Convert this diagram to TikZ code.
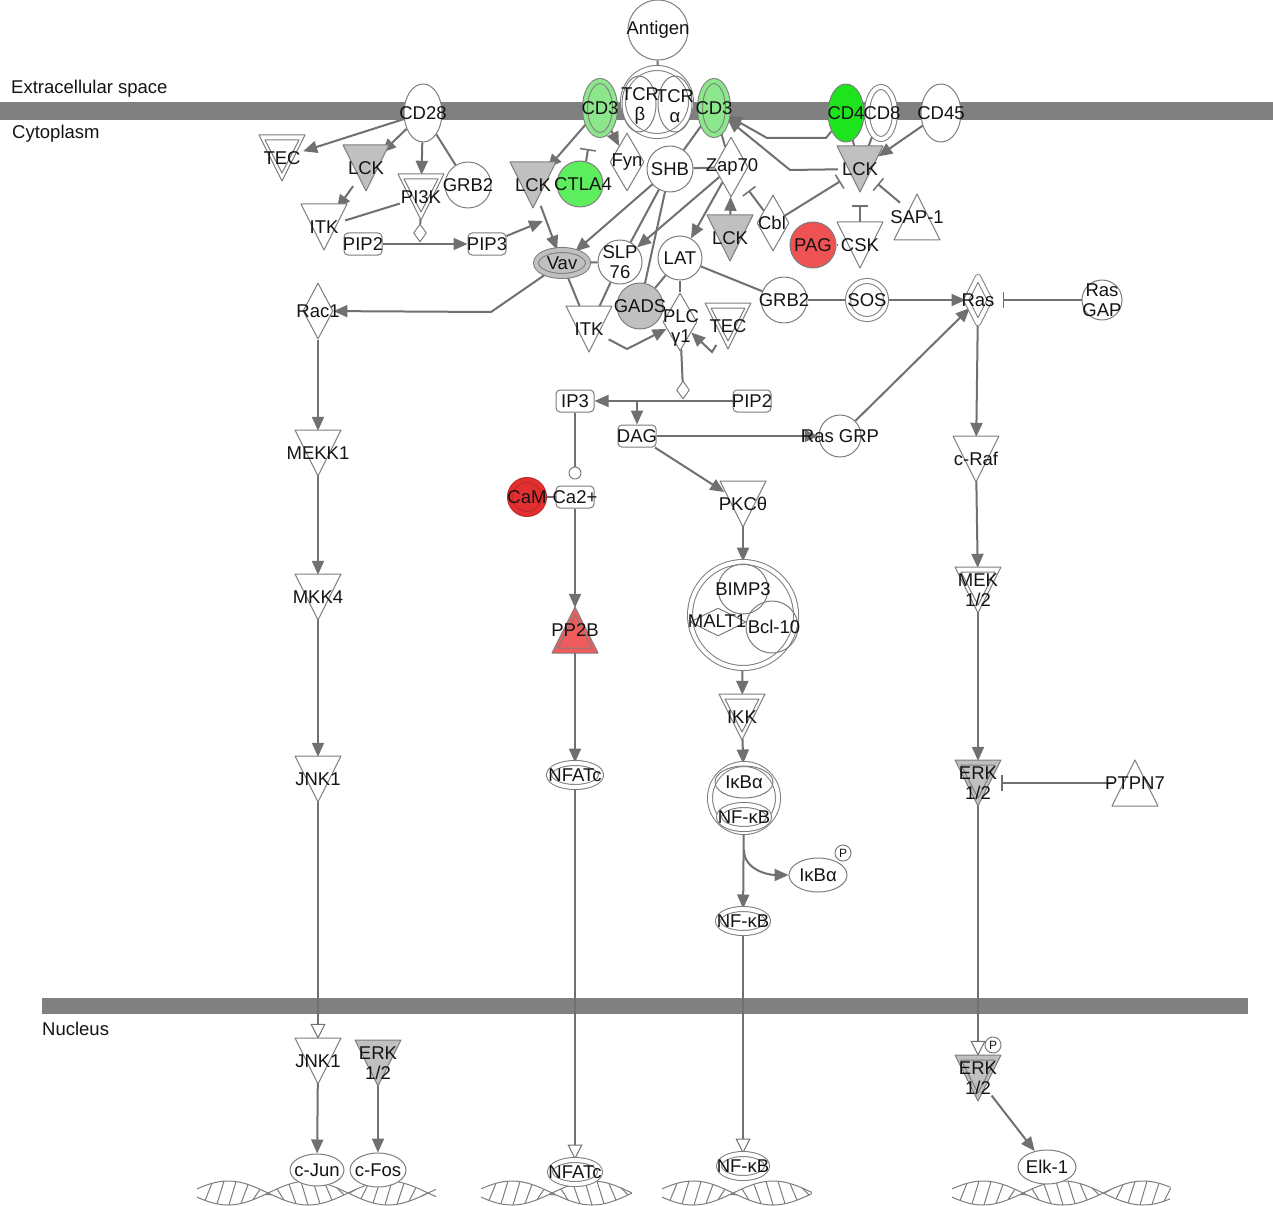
\documentclass[tikz,border=0pt]{standalone}
\usepackage{fontspec}
\setmainfont{Liberation Sans}
\usetikzlibrary{shapes.geometric,arrows.meta,backgrounds}
\pgfdeclarelayer{fg}
\pgfsetlayers{background,main,fg}
\definecolor{lg}{RGB}{112,112,112}
\definecolor{ng}{RGB}{125,125,125}
\definecolor{gf}{RGB}{192,192,192}
\definecolor{barc}{RGB}{128,128,128}
\definecolor{g1}{RGB}{140,230,140}
\definecolor{g2}{RGB}{30,228,30}
\definecolor{g3}{RGB}{92,238,92}
\definecolor{r1}{RGB}{226,48,48}
\definecolor{r1d}{RGB}{190,40,40}
\definecolor{r2}{RGB}{238,82,82}
\definecolor{r3}{RGB}{240,92,92}
\definecolor{tx}{RGB}{20,20,20}
\tikzset{
 shp/.style={draw=ng, line width=1pt, line join=round},
 ell/.style={ellipse, shp, fill=white, inner sep=0pt},
 circ/.style={circle, shp, fill=white, inner sep=0pt},
 dia/.style={diamond, shp, fill=white, inner sep=0pt},
 rrect/.style={rectangle, rounded corners=4pt, shp, fill=white, inner sep=0pt, minimum width=38pt, minimum height=22pt},
 dbl/.style={double=#1, double distance=4pt}, dbl/.default=white,
 anc/.style={circle, inner sep=0pt, minimum size=44pt},
 lbl/.style={inner sep=0pt, font=\fontsize{18.5}{20.5}\selectfont, text=tx, align=center},
 conn/.style={draw=lg, line width=2pt},
 act/.style={conn, -{Triangle[length=14pt,width=12pt]}},
 trans/.style={conn, -{Triangle[open,length=15pt,width=15pt,fill=white,line width=1pt]}},
 inh/.style={conn, -{Bar[width=16pt,line width=1.5pt]}},
 dna/.style={draw=ng, line width=1pt},
}
\newcommand{\Nlab}[2]{\begin{pgfonlayer}{fg}\node[lbl] (#1-l) at (#1) {#2};\end{pgfonlayer}}
\newcommand{\Nlabat}[4]{\begin{pgfonlayer}{fg}\node[lbl] (#1-l) at (#2,#3) {#4};\end{pgfonlayer}}
\newcommand{\Tdn}[5]{%
 \draw[shp,fill=#4] ({#2-23},{#3-23}) -- ({#2+23},{#3-23}) -- ({#2},{#3+23}) -- cycle;
 \node[anc] (#1) at (#2,#3) {};
 \Nlabat{#1}{#2}{#3}{#5}}
\newcommand{\Tdd}[5]{%
 \draw[shp,fill=#4] ({#2-23},{#3-23}) -- ({#2+23},{#3-23}) -- ({#2},{#3+23}) -- cycle;
 \draw[shp] ({#2-17},{#3-18}) -- ({#2+17},{#3-18}) -- ({#2},{#3+15}) -- cycle;
 \node[anc] (#1) at (#2,#3) {};
 \Nlabat{#1}{#2}{#3}{#5}}
\newcommand{\Tup}[5]{%
 \draw[shp,fill=#4] ({#2},{#3-23}) -- ({#2+23},{#3+23}) -- ({#2-23},{#3+23}) -- cycle;
 \node[anc] (#1) at (#2,#3) {};
 \Nlabat{#1}{#2}{#3}{#5}}
\newcommand{\Tud}[5]{%
 \draw[shp,fill=#4] ({#2},{#3-23}) -- ({#2+23},{#3+23}) -- ({#2-23},{#3+23}) -- cycle;
 \draw[shp] ({#2},{#3-15}) -- ({#2+17},{#3+18}) -- ({#2-17},{#3+18}) -- cycle;
 \node[anc] (#1) at (#2,#3) {};
 \Nlabat{#1}{#2}{#3}{#5}}
\newcommand{\Dhelix}[3]{%
 \draw[dna] plot[domain=#1:#2, samples=80, smooth] (\x,{1193+12*sin(2.25*(\x-#1)+20)});
 \draw[dna] plot[domain=#1:#2, samples=80, smooth] (\x,{1193-12*sin(2.25*(\x-#1)+20)});
 \foreach \k in {0,...,#3}{%
   \pgfmathsetmacro\ra{#1+8+12*\k}
   \pgfmathsetmacro\rb{\ra+7}
   \draw[dna] (\ra,{1193+12*sin(2.25*(\ra-#1)+20)}) -- (\rb,{1193-12*sin(2.25*(\rb-#1)+20)});
 }}
\begin{document}
\begin{tikzpicture}[x=1pt,y=-1pt]
\useasboundingbox (0,0) rectangle (1273,1206);
\begin{scope}[on background layer]
\fill[white] (0,0) rectangle (1273,1206);
\fill[barc] (0,102) rectangle (1273,120);
\fill[barc] (42,998) rectangle (1248,1014);
\end{scope}
% compartment labels
\node[lbl, anchor=west] (lext) at (11,89) {Extracellular space};
\node[lbl, anchor=west] (lcyt) at (12,134) {Cytoplasm};
\node[lbl, anchor=west] (lnuc) at (42,1029) {Nucleus};
% DNA
\Dhelix{197}{436}{18}
\Dhelix{481}{632}{11}
\Dhelix{662}{812}{11}
\Dhelix{952}{1170}{17}
% membrane receptors
\node[circ, minimum size=60pt] (antigen) at (658,30) {}; \Nlab{antigen}{Antigen}
\node[circ, dbl, minimum size=68pt] (tcr) at (657,102) {};
\node[ell, fill=none, minimum width=34pt, minimum height=56pt] (tcrb) at (639,104) {};
\node[ell, fill=none, minimum width=34pt, minimum height=56pt] (tcra) at (675,104) {};
\Nlabat{tcrb}{640}{106}{TCR\\β}
\Nlabat{tcra}{675}{106}{TCR\\α}
\node[ell, fill=g1, dbl=g1, minimum width=30pt, minimum height=54pt] (cd3l) at (600,108) {}; \Nlab{cd3l}{CD3}
\node[ell, fill=g1, dbl=g1, minimum width=28pt, minimum height=54pt] (cd3r) at (714,108) {}; \Nlab{cd3r}{CD3}
\node[ell, minimum width=38pt, minimum height=58pt] (cd28) at (423,113) {}; \Nlab{cd28}{CD28}
\node[ell, fill=g2, minimum width=36pt, minimum height=58pt] (cd4) at (846,113) {}; \Nlab{cd4}{CD4}
\node[ell, dbl, minimum width=28pt, minimum height=52pt] (cd8) at (881,113) {}; \Nlabat{cd8}{882}{113}{CD8}
\node[ell, minimum width=40pt, minimum height=58pt] (cd45) at (941,113) {}; \Nlab{cd45}{CD45}
% CD28 region
\Tdd{tecl}{282}{158}{white}{TEC}
\Tdn{lckl}{366}{168}{gf}{LCK}
\Tdd{pi3k}{421}{197}{white}{PI3K}
\node[circ, minimum size=46pt] (grb2l) at (468,185) {}; \Nlab{grb2l}{GRB2}
\Tdn{itkl}{324}{227}{white}{ITK}
\node[rrect] (pip2l) at (363,244) {}; \Nlab{pip2l}{PIP2}
\node[rrect] (pip3l) at (487,244) {}; \Nlab{pip3l}{PIP3}
\node[dia, minimum width=13pt, minimum height=18pt] (cat1) at (420,233) {};
% TCR signalosome
\Tdn{lckm}{533}{185}{gf}{LCK}
\node[circ, fill=g3, minimum size=46pt] (ctla4) at (580,184) {}; \Nlabat{ctla4}{583}{184}{CTLA4}
\node[dia, minimum width=34pt, minimum height=58pt] (fyn) at (627,162) {}; \Nlab{fyn}{Fyn}
\node[circ, minimum size=46pt] (shb) at (670,169) {}; \Nlab{shb}{SHB}
\node[dia, minimum width=34pt, minimum height=60pt] (zap70) at (731,167) {}; \Nlabat{zap70}{732}{167}{Zap70}
\Tdn{lckz}{730}{238}{gf}{LCK}
\node[dia, minimum width=32pt, minimum height=56pt] (cbl) at (773,223) {}; \Nlabat{cbl}{772}{223}{Cbl}
\node[ell, fill=gf, dbl=gf, minimum width=52pt, minimum height=26pt] (vav) at (562,263) {}; \Nlab{vav}{Vav}
\node[circ, minimum size=44pt] (slp76) at (620,262) {}; \Nlab{slp76}{SLP\\76}
\node[circ, minimum size=44pt] (lat) at (680,258) {}; \Nlab{lat}{LAT}
\node[circ, fill=gf, minimum size=46pt] (gads) at (640,306) {}; \Nlab{gads}{GADS}
\Tdn{itkm}{589}{329}{white}{ITK}
\node[dia, minimum width=34pt, minimum height=58pt] (plc) at (680,322) {}; \Nlabat{plc}{681}{328}{PLC\\γ1}
\Tdd{tecm}{728}{326}{white}{TEC}
\node[circ, minimum size=46pt] (grb2r) at (784,300) {}; \Nlab{grb2r}{GRB2}
\node[circ, dbl, minimum size=38pt] (sos) at (867,300) {}; \Nlab{sos}{SOS}
\node[dia, dbl, minimum width=24pt, minimum height=47pt] (ras) at (978,300) {}; \Nlab{ras}{Ras}
\node[circ, minimum size=40pt] (rasgap) at (1102,300) {}; \Nlab{rasgap}{Ras\\GAP}
\node[circ, minimum size=42pt] (rasgrp) at (840,436) {}; \Nlab{rasgrp}{Ras GRP}
% CD4 / LCK region
\Tdn{lckr}{860}{169}{gf}{LCK}
\node[circ, fill=r2, minimum size=46pt] (pag) at (813,245) {}; \Nlab{pag}{PAG}
\Tdn{csk}{860}{245}{white}{CSK}
\Tup{sap1}{917}{217}{white}{SAP-1}
% MAPK right
\Tdn{craf}{976}{459}{white}{c-Raf}
\Tdd{mek}{978}{590}{white}{MEK\\1/2}
\Tdd{erkc}{978}{783}{gf}{ERK\\1/2}
\Tup{ptpn7}{1135}{783}{white}{PTPN7}
% second messengers
\node[rrect] (ip3) at (575,401) {}; \Nlab{ip3}{IP3}
\node[rrect] (pip2r) at (752,401) {}; \Nlab{pip2r}{PIP2}
\node[dia, minimum width=13pt, minimum height=18pt] (cat2) at (683,390) {};
\node[rrect] (dag) at (637,436) {}; \Nlab{dag}{DAG}
\node[circ, minimum size=12pt] (oc) at (575,473) {};
\node[circ, fill=r1, draw=r1d, dbl=r1, minimum size=34pt] (cam) at (527,497) {}; \Nlab{cam}{CaM}
\node[rrect] (ca) at (575,497) {}; \Nlab{ca}{Ca2+}
\Tud{pp2b}{575}{630}{r3}{PP2B}
\node[ell, dbl, minimum width=52pt, minimum height=24pt] (nfatc) at (575,775) {}; \Nlab{nfatc}{NFATc}
% NF-kB branch
\Tdn{pkc}{743}{504}{white}{PKCθ}
\node[circ, dbl, minimum size=106pt] (cplx) at (743,615) {};
\node[circ, fill=none, minimum size=50pt] (bimp3) at (743,589) {};
\node[circ, fill=none, minimum size=52pt] (bcl10) at (772,627) {};
\node[dia, fill=none, minimum width=56pt, minimum height=28pt] (malt1) at (718,622) {};
\Nlab{bimp3}{BIMP3}
\Nlabat{malt1}{717}{621}{MALT1}
\Nlabat{bcl10}{774}{627}{Bcl-10}
\Tdd{ikk}{742}{717}{white}{IKK}
\node[circ, dbl, minimum size=68pt] (nfcplx) at (744,798) {};
\node[ell, fill=none, minimum width=58pt, minimum height=32pt] (ikba) at (744,782) {}; \Nlab{ikba}{IκBα}
\node[ell, dbl, minimum width=50pt, minimum height=24pt] (nfkbi) at (744,817) {}; \Nlab{nfkbi}{NF-κB}
\node[ell, minimum width=58pt, minimum height=34pt] (ikbap) at (818,875) {}; \Nlab{ikbap}{IκBα}
\node[circ, minimum size=16pt] (pc1) at (843,853) {};
\begin{pgfonlayer}{fg}\node[lbl, font=\fontsize{12}{12}\selectfont] (pc1-l) at (pc1) {P};\end{pgfonlayer}
\node[ell, dbl, minimum width=50pt, minimum height=24pt] (nfkbc) at (743,921) {}; \Nlab{nfkbc}{NF-κB}
% JNK branch
\node[dia, minimum width=30pt, minimum height=56pt] (rac1) at (318,311) {}; \Nlab{rac1}{Rac1}
\Tdn{mekk1}{318}{453}{white}{MEKK1}
\Tdn{mkk4}{318}{597}{white}{MKK4}
\Tdn{jnk1c}{318}{779}{white}{JNK1}
% nucleus
\Tdn{jnk1n}{318}{1061}{white}{JNK1}
\Tdn{erkn1}{378}{1063}{gf}{ERK\\1/2}
\node[ell, minimum width=54pt, minimum height=32pt] (cjun) at (317,1170) {}; \Nlab{cjun}{c-Jun}
\node[ell, minimum width=56pt, minimum height=34pt] (cfos) at (378,1170) {}; \Nlab{cfos}{c-Fos}
\node[ell, dbl, minimum width=50pt, minimum height=24pt] (nfatcn) at (575,1172) {}; \Nlab{nfatcn}{NFATc}
\node[ell, dbl, minimum width=48pt, minimum height=24pt] (nfkbn) at (743,1166) {}; \Nlab{nfkbn}{NF-κB}
\Tdd{erkn2}{978}{1078}{gf}{ERK\\1/2}
\node[circ, minimum size=16pt] (pn) at (993,1045) {};
\begin{pgfonlayer}{fg}\node[lbl, font=\fontsize{12}{12}\selectfont] (pn-l) at (pn) {P};\end{pgfonlayer}
\node[ell, minimum width=58pt, minimum height=34pt] (elk1) at (1047,1167) {}; \Nlab{elk1}{Elk-1}
% connector bend points
\coordinate (p3t) at (543,221);
\coordinate (ctlat) at (588,149);
\coordinate (vb) at (491,312);
\coordinate (ib) at (627,349);
\coordinate (tb) at (712,352);
\coordinate (br) at (637,401);
\coordinate (bp) at (744,850);
\coordinate (c4a) at (826,138);
\coordinate (c4b) at (767,138);
\coordinate (lb) at (790,170);
% connectors
\begin{scope}[on background layer]
\draw[conn] (antigen) -- (tcr);
\draw[act] (cd28) -- (tecl);
\draw[act] (cd28) -- (lckl);
\draw[act] (cd28) -- (pi3k);
\draw[conn] (cd28) -- (grb2l);
\draw[act] (lckl) -- (itkl);
\draw[conn] (itkl) -- (pi3k);
\draw[conn] (pi3k) -- (cat1);
\draw[act] (pip2l) -- (pip3l);
\draw[act] (pip3l) -- (p3t);
\draw[act] (cd3l) -- (lckm);
\draw[act] (cd3l) -- (fyn);
\draw[inh] (ctla4.75) -- (ctlat);
\draw[conn] (cd3r) -- (shb);
\draw[conn] (cd3r) -- (zap70);
\draw[conn] (shb) -- (zap70);
\draw[act] (shb) -- (vav);
\draw[conn] (shb) -- (slp76);
\draw[conn] (shb) -- (gads);
\draw[act] (zap70) -- (slp76);
\draw[act] (zap70) -- (lat);
\draw[act] (lckm) -- (vav);
\draw[conn] (vav) -- (slp76);
\draw[conn] (vav) -- (itkm);
\draw[act] (vav) -- (vb) -- (rac1);
\draw[conn] (slp76) -- (itkm);
\draw[act] (itkm) -- (ib) -- (plc);
\draw[conn] (lat) -- (gads);
\draw[conn] (lat) -- (plc);
\draw[conn] (lat) -- (grb2r);
\draw[act] (tecm) -- (tb) -- (plc);
\draw[conn] (grb2r) -- (sos);
\draw[act] (sos) -- (ras);
\draw[inh, shorten >=12pt] (rasgap) -- (ras);
\draw[act] (ras) -- (craf);
\draw[act] (rasgrp) -- (ras);
\draw[act] (dag) -- (rasgrp);
\draw[conn] (plc) -- (cat2);
\draw[act] (pip2r) -- (ip3);
\draw[act] (br) -- (dag);
\draw[conn] (ip3) -- (oc);
\draw[conn] (cam) -- (ca);
\draw[act] (ca) -- (pp2b);
\draw[act] (pp2b) -- (nfatc);
\draw[trans] (nfatc) -- (nfatcn);
\draw[act] (dag) -- (pkc);
\draw[act] (pkc) -- (cplx);
\draw[act] (cplx) -- (ikk);
\draw[act] (ikk) -- (nfcplx);
\draw[act] (nfcplx) -- (nfkbc);
\draw[act] (bp) to[out=270,in=180] (ikbap);
\draw[trans] (nfkbc) -- (nfkbn);
\draw[act] (rac1) -- (mekk1);
\draw[act] (mekk1) -- (mkk4);
\draw[act] (mkk4) -- (jnk1c);
\draw[trans] (jnk1c) -- (jnk1n);
\draw[act] (jnk1n) -- (cjun);
\draw[act] (erkn1) -- (cfos);
\draw[act] (craf) -- (mek);
\draw[act] (mek) -- (erkc);
\draw[inh, shorten >=1pt] (ptpn7) -- (erkc);
\draw[trans] (erkc) -- (erkn2);
\draw[act] (erkn2) -- (elk1);
\draw[act] (cd4) -- (c4a) -- (c4b) -- (cd3r);
\draw[act] (lckr) -- (lb) -- (cd3r);
\draw[conn] (cd4) -- (lckr);
\draw[conn] (cd8) -- (lckr);
\draw[act] (cd45) -- (lckr);
\draw[inh, shorten >=1pt] (cbl) -- (lckr);
\draw[inh, shorten >=13pt] (cbl) -- (zap70);
\draw[inh, shorten >=14pt] (csk) -- (lckr);
\draw[inh, shorten >=1pt] (sap1) -- (lckr);
\draw[conn] (pag) -- (csk);
\draw[act] (lckz) -- (zap70);
\end{scope}
\end{tikzpicture}
\end{document}
